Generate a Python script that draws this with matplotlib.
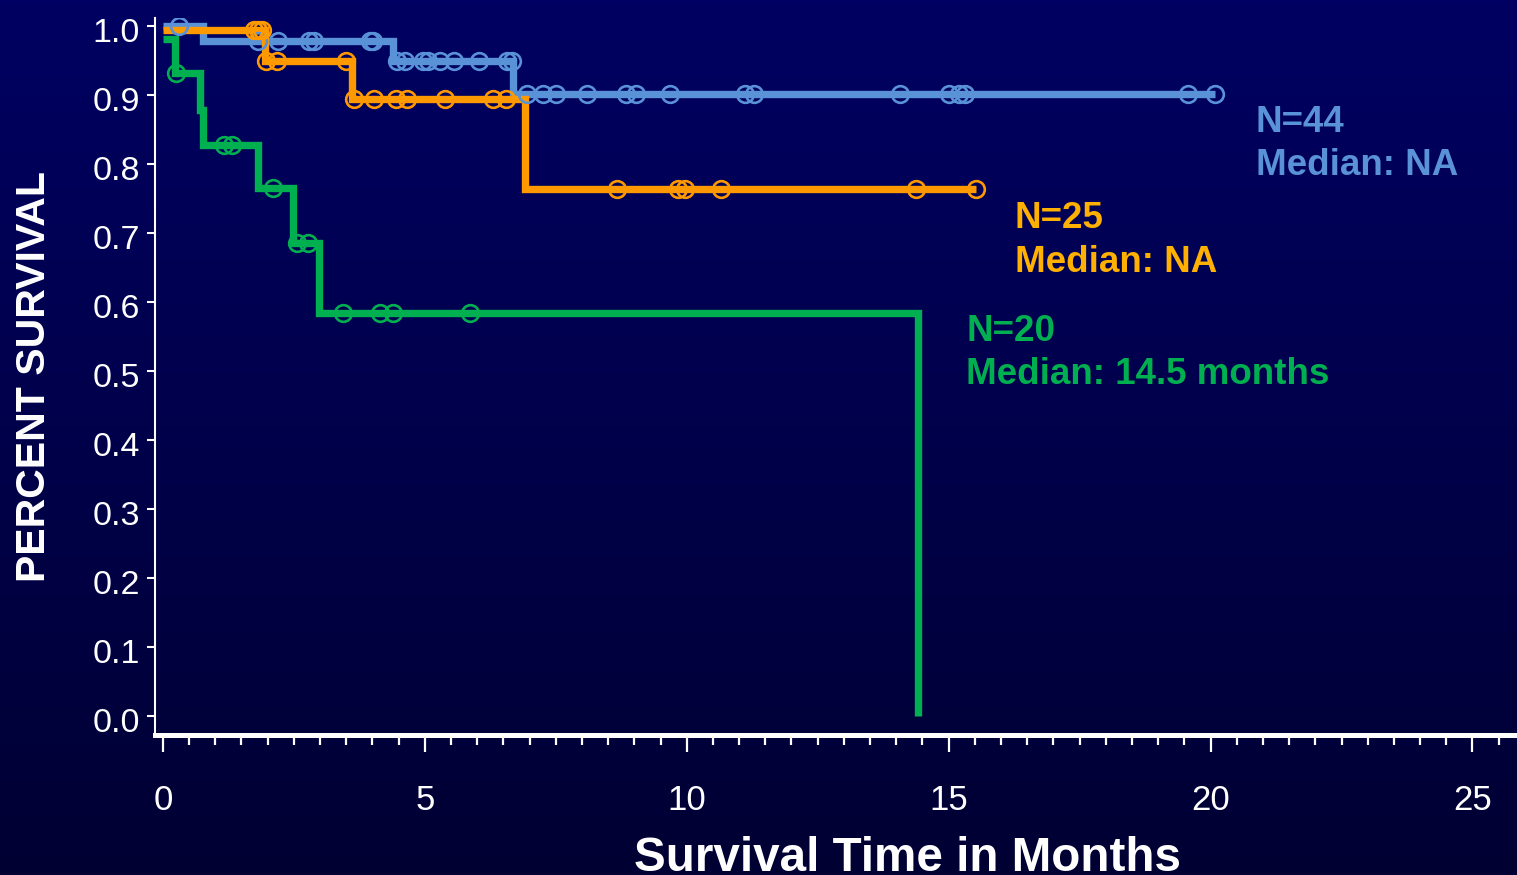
import numpy as np
import matplotlib
matplotlib.use("Agg")
import matplotlib.pyplot as plt
from matplotlib.colors import LinearSegmentedColormap
from matplotlib.transforms import ScaledTranslation

plt.rcParams["font.family"] = ["Liberation Sans", "DejaVu Sans"]

# Kaplan-Meier curves:
# step times, survival after each step, last follow-up time, censor times
blue_times = [0.0, 0.76, 4.39, 6.68]
blue_surv = [1.0, 0.977, 0.948, 0.901]
blue_end = 20.08
blue_censor = [0.31, 1.81, 2.19, 2.79, 2.88, 3.95, 4.01, 4.47, 4.62, 4.96,
               5.06, 5.29, 5.55, 6.03, 6.56, 6.66, 6.95, 7.25, 7.50, 8.09,
               8.84, 9.03, 9.69, 11.11, 11.28, 14.08, 15.00, 15.19, 15.32,
               19.56, 20.08]

orange_times = [0.0, 1.95, 3.61, 6.91]
orange_surv = [0.994, 0.948, 0.893, 0.763]
orange_end = 15.52
orange_censor = [1.74, 1.81, 1.89, 1.97, 2.18, 3.49, 3.64, 4.03, 4.45, 4.66,
                 5.38, 6.30, 6.55, 8.66, 9.83, 9.96, 10.65, 14.37, 15.52]

green_times = [0.0, 0.23, 0.71, 0.76, 1.81, 2.48, 2.98, 14.41]
green_surv = [0.981, 0.931, 0.878, 0.827, 0.765, 0.685, 0.584, 0.0]
green_end = 14.41
green_censor = [0.25, 1.16, 1.32, 2.10, 2.56, 2.77, 3.44, 4.14, 4.39, 5.86]

groups = [
    ("#5A92D8", "#5A92D8", blue_times, blue_surv, blue_end, blue_censor,
     ["N=44", "Median: NA"], 20.86, [0.860, 0.797]),
    ("#FF9900", "#FFB000", orange_times, orange_surv, orange_end, orange_censor,
     ["N=25", "Median: NA"], 16.26, [0.721, 0.656]),
    ("#00B050", "#00B050", green_times, green_surv, green_end, green_censor,
     ["N=20", "Median: 14.5 months"], 15.34, [0.557, 0.494]),
]

x_major = np.arange(0, 26, 5)
x_minor = np.arange(0, 26, 0.5)
y_ticks = np.round(np.arange(0, 1.01, 0.1), 1)

W, H = 1517, 875
fig = plt.figure(figsize=(W / 100, H / 100), dpi=100)

# vertical navy gradient behind everything
bg = fig.add_axes([0, 0, 1, 1], zorder=0)
cmap = LinearSegmentedColormap.from_list("bg", ["#000062", "#000033"])
bg.imshow(np.linspace(0, 1, 256).reshape(-1, 1), aspect="auto", cmap=cmap,
          extent=[0, 1, 0, 1], origin="upper")
bg.axis("off")

ax = fig.add_axes([155 / W, 1 - 735 / H, 1 - 155 / W, (735 - 18) / H], zorder=1)
ax.set_facecolor("none")

for line_c, text_c, times, surv, end, censor, labels, tx, tys in groups:
    xs = list(times) + [end]
    ys = list(surv) + [surv[-1]]
    ax.plot(xs, ys, drawstyle="steps-post", color=line_c, lw=5.3,
            solid_joinstyle="miter", solid_capstyle="butt", zorder=3)
    idx = np.searchsorted(times, censor, side="right") - 1
    ax.plot(censor, np.asarray(surv)[idx], ls="none", marker="o", ms=12,
            mfc="none", mec=line_c, mew=1.9, zorder=4)
    for lab, ty in zip(labels, tys):
        ax.text(tx, ty, lab, color=text_c, fontsize=26.5, fontweight="bold",
                ha="left", va="center")

ax.set_xlim(-0.15, 25.85)
ax.set_ylim(-0.028, 1.011)

ax.set_xticks(x_major)
ax.set_xticks(x_minor, minor=True)
ax.set_yticks(y_ticks)
ax.set_yticklabels([f"{v:.1f}" for v in y_ticks])

ax.tick_params(axis="x", which="major", direction="out", length=12, width=1.6,
               colors="white", labelsize=25, pad=23)
ax.tick_params(axis="x", which="minor", direction="out", length=7, width=1.6,
               colors="white")
ax.tick_params(axis="y", direction="out", length=6, width=1.5,
               colors="white", labelsize=24.5, pad=5)
# y labels sit a few pixels below their ticks in the reference
shift = ScaledTranslation(0, -4 / 100, fig.dpi_scale_trans)
for lab in ax.get_yticklabels():
    lab.set_transform(lab.get_transform() + shift)

for s in ["top", "right"]:
    ax.spines[s].set_visible(False)
ax.spines["left"].set_color("white")
ax.spines["left"].set_linewidth(1.5)
ax.spines["bottom"].set_color("white")
ax.spines["bottom"].set_linewidth(3.6)

fig.text(34 / W, 1 - 377 / H, "PERCENT SURVIVAL", rotation=90, color="white",
         fontsize=29.5, fontweight="bold", ha="center", va="center")
fig.text(907 / W, 1 - 871 / H, "Survival Time in Months", color="white",
         fontsize=34.3, fontweight="bold", ha="center", va="baseline")

fig.savefig("out.png", dpi=100)
